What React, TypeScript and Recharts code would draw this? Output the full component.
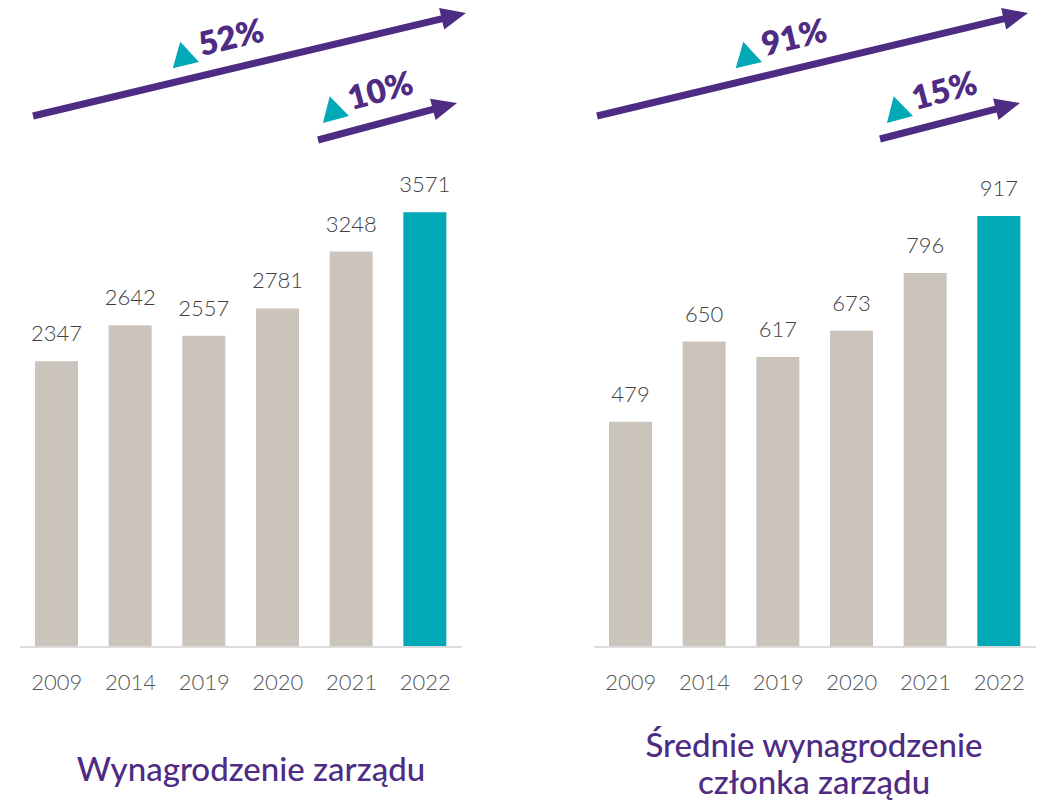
import React from 'react';
import { BarChart, Bar, XAxis, YAxis, Cell, LabelList } from 'recharts';

const years = ['2009', '2014', '2019', '2020', '2021', '2022'];
const boardPay = [2347, 2642, 2557, 2781, 3248, 3571];
const memberPay = [479, 650, 617, 673, 796, 917];
const highlightYear = '2022';

const boardGrowth = ['52%', '10%'];
const memberGrowth = ['91%', '15%'];

const PURPLE = '#4E2C83';
const TEAL = '#00A9B5';
const GREY = '#CBC4BD';
const FONT = 'Lato, "Open Sans", sans-serif';

const boardData = years.map((year, i) => ({ year, value: boardPay[i] }));
const memberData = years.map((year, i) => ({ year, value: memberPay[i] }));

// decorative growth arrow: shaft + head
function Arrow({ x1, y1, x2, y2 }: { x1: number; y1: number; x2: number; y2: number }) {
  const dx = x2 - x1;
  const dy = y2 - y1;
  const len = Math.sqrt(dx * dx + dy * dy);
  const ux = dx / len;
  const uy = dy / len;
  const headLen = 25;
  const half = 11;
  const bx = x2 - ux * headLen;
  const by = y2 - uy * headLen;
  const p1 = `${bx - uy * half},${by + ux * half}`;
  const p2 = `${bx + uy * half},${by - ux * half}`;
  return (
    <g>
      <line x1={x1} y1={y1} x2={bx + ux * 2} y2={by + uy * 2} stroke={PURPLE} strokeWidth={7} />
      <polygon points={`${x2},${y2} ${p1} ${p2}`} fill={PURPLE} />
    </g>
  );
}

function Growth({ x, y, angle, label }: { x: number; y: number; angle: number; label: string }) {
  // teal marker + bold percentage, rotated along the arrow
  return (
    <g transform={`translate(${x},${y}) rotate(${angle})`}>
      <polygon points="-27,0 0,0 -13.5,-24" fill={TEAL} />
      <text x={4} y={-5} fill={PURPLE} fontFamily={FONT} fontWeight={800} fontSize={33}>
        {label}
      </text>
    </g>
  );
}

function PayChart({ data, max, top }: { data: { year: string; value: number }[]; max: number; top: number }) {
  return (
    <BarChart width={480} height={720} data={data} margin={{ top, left: 20, right: 18, bottom: 0 }}>
      <XAxis
        dataKey="year"
        height={73}
        interval={0}
        tickLine={false}
        tickMargin={21}
        axisLine={{ stroke: '#dcdcdc', strokeWidth: 2 }}
        tick={{ fill: '#555', fontSize: 22, fontFamily: FONT, fontWeight: 300 }}
      />
      <YAxis hide domain={[0, max]} />
      <Bar dataKey="value" barSize={43} isAnimationActive={false}>
        {data.map((d) => (
          <Cell key={d.year} fill={d.year === highlightYear ? TEAL : GREY} />
        ))}
        <LabelList
          dataKey="value"
          position="top"
          offset={20}
          style={{ fill: '#404040', fontSize: 22, fontFamily: FONT, fontWeight: 300 }}
        />
      </Bar>
    </BarChart>
  );
}

export default function App() {
  return (
    <div style={{ position: 'absolute', left: 0, top: 0, width: 1041, height: 806, background: '#fff', fontFamily: FONT }}>
      <div style={{ position: 'absolute', left: 0, top: 0 }}>
        <PayChart data={boardData} max={4000} top={160} />
      </div>
      <div style={{ position: 'absolute', left: 574, top: 0 }}>
        <PayChart data={memberData} max={1000} top={177} />
      </div>

      <svg width={1041} height={806} style={{ position: 'absolute', left: 0, top: 0, pointerEvents: 'none' }}>
        <Arrow x1={33} y1={116} x2={466} y2={13} />
        <Arrow x1={318} y1={140} x2={457} y2={103} />
        <Arrow x1={597} y1={116} x2={1028} y2={13} />
        <Arrow x1={880} y1={139} x2={1020} y2={103} />
        <Growth x={199} y={62} angle={-13.4} label={boardGrowth[0]} />
        <Growth x={349} y={116} angle={-15} label={boardGrowth[1]} />
        <Growth x={762} y={62} angle={-13.4} label={memberGrowth[0]} />
        <Growth x={913} y={116} angle={-15} label={memberGrowth[1]} />
      </svg>

      <div
        style={{
          position: 'absolute', left: 51, width: 400, top: 750, textAlign: 'center',
          color: PURPLE, fontSize: 33, fontWeight: 500, lineHeight: '37px',
        }}
      >
        Wynagrodzenie zarządu
      </div>
      <div
        style={{
          position: 'absolute', left: 614, width: 400, top: 726, textAlign: 'center',
          color: PURPLE, fontSize: 33, fontWeight: 500, lineHeight: '37px',
        }}
      >
        Średnie wynagrodzenie
        <br />
        członka zarządu
      </div>
    </div>
  );
}
